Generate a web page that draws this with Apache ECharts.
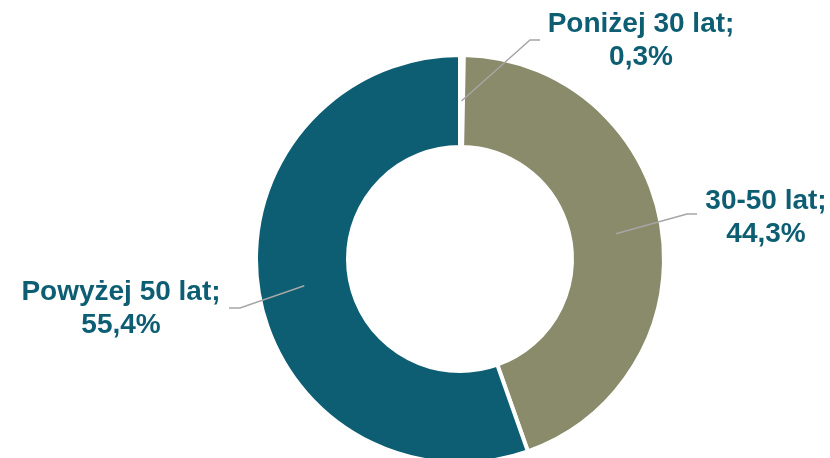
<!DOCTYPE html>
<html>
<head>
<meta charset="utf-8">
<script src="https://cdn.jsdelivr.net/npm/echarts@6/dist/echarts.min.js"></script>
<style>
  html, body { margin: 0; padding: 0; background: #fff; }
  #chart { width: 830px; height: 458px; }
</style>
</head>
<body>
<div id="chart"></div>
<script>
var categories = ['Poniżej 30 lat', '30-50 lat', 'Powyżej 50 lat'];
var values = [0.3, 44.3, 55.4];
var valueLabels = ['0,3%', '44,3%', '55,4%'];
var colors = ['#ffffff', '#898b6b', '#0e5e73'];

// label placement (centre of text block) and elbow of the guide line
var labelPos = [[641, 41], [766, 218], [121, 309]];
var elbows = [[[530, 40], [540, 40]], [[687, 214], [697, 214]], [[240, 308], [229, 308]]];

var ink = '#0e5e73';
var guide = '#a6a6a6';

var ringData = categories.map(function(c, i) {
  return { name: c, value: values[i], itemStyle: { color: colors[i] } };
});
var labelData = categories.map(function(c, i) {
  return { name: c, value: values[i] };
});

var chart = echarts.init(document.getElementById('chart'), null, { renderer: 'canvas' });
chart.setOption({
  animation: false,
  series: [{
    type: 'pie',
    center: [460, 259],
    radius: [112, 204],
    startAngle: 90,
    clockwise: true,
    silent: true,
    label: { show: false },
    labelLine: { show: false },
    itemStyle: { borderColor: '#ffffff', borderWidth: 4 },
    data: ringData
  }, {
    // transparent pie whose outer edge sits mid-ring, used only to carry labels
    type: 'pie',
    center: [460, 259],
    radius: [0, 158],
    startAngle: 90,
    clockwise: true,
    silent: true,
    z: 3,
    avoidLabelOverlap: false,
    itemStyle: { color: 'rgba(0,0,0,0)', borderWidth: 0 },
    label: {
      show: true,
      position: 'outside',
      fontFamily: 'Liberation Sans, Arial, sans-serif',
      fontWeight: 'bold',
      fontSize: 28,
      lineHeight: 33,
      color: ink,
      align: 'center',
      formatter: function(p) { return p.name + ';\n' + valueLabels[p.dataIndex]; }
    },
    labelLine: { show: true, length: 10, length2: 10, lineStyle: { color: guide, width: 1.5 } },
    labelLayout: function(p) {
      var i = p.dataIndex;
      var start = p.labelLinePoints ? p.labelLinePoints[0] : [460, 259];
      return {
        x: labelPos[i][0],
        y: labelPos[i][1],
        align: 'center',
        verticalAlign: 'middle',
        labelLinePoints: [start, elbows[i][0], elbows[i][1]]
      };
    },
    data: labelData
  }]
});
window.addEventListener('resize', function() { chart.resize(); });
</script>
</body>
</html>
